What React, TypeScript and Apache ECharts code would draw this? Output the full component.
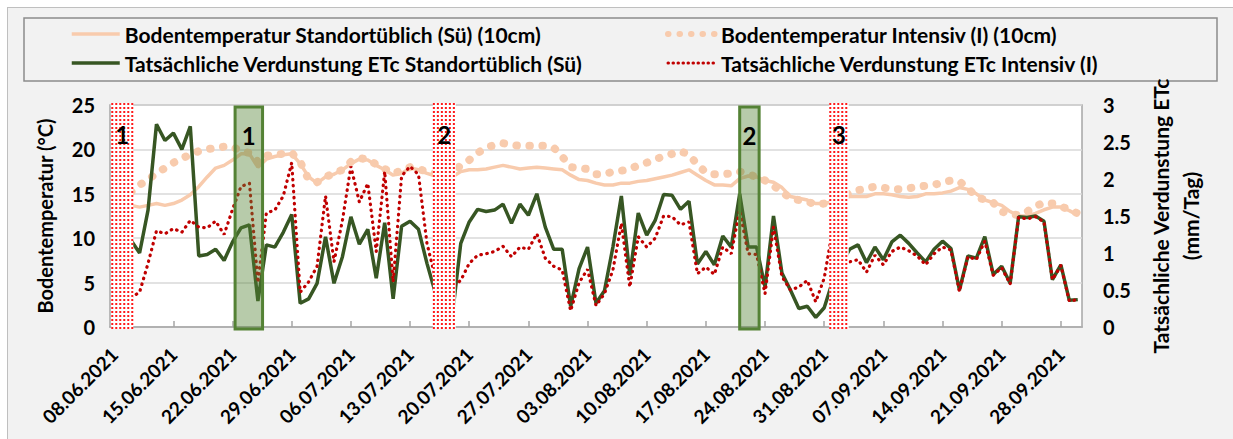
import React, { useEffect, useRef } from 'react';
import * as echarts from 'echarts';

// ---------- data ----------
const startDateUTC = Date.UTC(2021, 5, 8);
const dayCount = 115;
const categories: string[] = [];
for (let i = 0; i < dayCount; i++) {
  const d = new Date(startDateUTC + i * 86400000);
  categories.push(
    String(d.getUTCDate()).padStart(2, '0') + '.' + String(d.getUTCMonth() + 1).padStart(2, '0') + '.' + d.getUTCFullYear()
  );
}

const seriesNames = [
  'Bodentemperatur Standortüblich (Sü) (10cm)',
  'Bodentemperatur Intensiv (I) (10cm)',
  'Tatsächliche Verdunstung ETc Standortüblich (Sü)',
  'Tatsächliche Verdunstung ETc Intensiv (I)',
];

// soil temperature (°C), left axis
const soilSue = [
  null, null, 13.7, 13.5, 13.7, 13.9, 13.7, 13.9, 14.3, 14.9,
  15.8, 16.9, 17.9, 18.2, 18.8, 19.5, 19.5, 18.0, 18.9, 19.2,
  19.4, 19.5, 18.4, 16.9, 16.2, 16.9, 17.2, 17.7, 18.4, 18.9,
  18.8, 18.2, 17.7, 17.1, 17.3, 17.9, 17.7, 17.3, 17.0, 16.8,
  16.9, 17.5, 17.7, 17.7, 17.8, 18.0, 18.2, 18.0, 17.8, 17.9,
  18.0, 17.9, 17.8, 17.7, 17.1, 16.6, 16.5, 16.2, 16.0, 16.0,
  16.2, 16.2, 16.4, 16.5, 16.7, 16.9, 17.1, 17.4, 17.7, 17.1,
  16.5, 16.0, 16.0, 15.9, 16.7, 17.0, 16.9, 16.5, 16.3, 15.7,
  14.7, 14.5, 14.3, 13.9, 13.9, 14.1, 14.4, 14.7, 14.7, 14.7,
  15.0, 15.0, 14.9, 14.7, 14.6, 14.7, 15.0, 15.0, 15.1, 15.3,
  15.7, 15.5, 15.0, 14.3, 14.0, 13.7, 13.0, 12.5, 12.5, 12.8,
  13.2, 13.5, 13.5, 13.1, 12.6,
];

const soilInt = [
  null, null, 15.2, 16.0, 16.6, 17.3, 17.9, 18.5, 19.0, 19.4,
  19.8, 20.0, 20.2, 20.3, 20.3, 19.8, 19.6, 18.6, 19.3, 19.4,
  19.5, 19.6, 18.6, 16.6, 16.3, 16.9, 17.3, 17.7, 18.6, 19.0,
  18.9, 18.3, 17.8, 17.3, 17.6, 18.0, 17.8, 17.5, 17.3, 17.2,
  17.4, 18.2, 18.8, 19.6, 20.2, 20.5, 20.7, 20.5, 20.4, 20.4,
  20.4, 20.4, 20.2, 19.2, 18.0, 17.9, 17.8, 17.2, 17.2, 17.5,
  17.6, 17.8, 18.2, 18.5, 18.9, 19.2, 19.5, 19.8, 19.4, 18.3,
  17.4, 17.2, 17.2, 17.3, 17.5, 17.2, 16.9, 16.5, 15.9, 15.2,
  14.5, 14.3, 14.1, 13.8, 13.9, 14.2, 14.6, 15.1, 15.4, 15.6,
  15.8, 15.7, 15.5, 15.5, 15.6, 15.8, 15.9, 16.0, 16.3, 16.5,
  16.4, 15.6, 14.7, 14.3, 14.0, 13.0, 12.7, 12.6, 13.0, 13.6,
  14.0, 13.9, 13.6, 13.2, 12.8,
];

// actual evapotranspiration ETc (mm/Tag), right axis
const etcSue = [
  null, null, 1.17, 1.00, 1.58, 2.74, 2.52, 2.62, 2.40, 2.71,
  0.96, 0.98, 1.05, 0.90, 1.15, 1.34, 1.38, 0.35, 1.11, 1.08,
  1.28, 1.52, 0.32, 0.38, 0.59, 1.22, 0.59, 0.95, 1.49, 1.12,
  1.32, 0.66, 1.41, 0.38, 1.36, 1.43, 1.32, 0.86, 0.46, 0.30,
  0.15, 1.13, 1.42, 1.59, 1.56, 1.58, 1.66, 1.40, 1.66, 1.51,
  1.80, 1.35, 1.05, 1.05, 0.28, 0.79, 1.08, 0.32, 0.49, 1.08,
  1.77, 0.70, 1.54, 1.24, 1.44, 1.79, 1.78, 1.59, 1.70, 0.85,
  1.02, 0.84, 1.23, 1.08, 1.80, 1.08, 1.08, 0.54, 1.50, 0.73,
  0.50, 0.25, 0.28, 0.13, 0.26, 0.62, 0.84, 1.05, 1.11, 0.87,
  1.08, 0.91, 1.15, 1.24, 1.13, 1.00, 0.88, 1.05, 1.16, 1.06,
  0.50, 0.96, 0.93, 1.22, 0.71, 0.82, 0.59, 1.49, 1.48, 1.50,
  1.43, 0.64, 0.84, 0.36, 0.37,
];

const etcInt = [
  null, null, 0.40, 0.47, 0.86, 1.30, 1.26, 1.33, 1.28, 1.44,
  1.35, 1.34, 1.43, 1.25, 1.59, 1.90, 1.94, 0.60, 1.54, 1.58,
  1.77, 2.22, 0.47, 0.61, 0.82, 1.77, 0.88, 1.44, 2.17, 1.69,
  1.94, 1.02, 2.10, 0.61, 2.04, 2.17, 2.06, 1.13, 0.66, 0.54,
  0.54, 0.63, 0.86, 0.97, 0.99, 1.02, 1.09, 0.95, 1.08, 1.05,
  1.26, 0.93, 0.82, 0.77, 0.22, 0.60, 0.78, 0.29, 0.45, 0.77,
  1.40, 0.54, 1.22, 1.08, 1.20, 1.50, 1.49, 1.38, 1.42, 0.72,
  0.81, 0.71, 1.08, 0.99, 1.58, 0.99, 0.98, 0.45, 1.35, 0.68,
  0.50, 0.54, 0.63, 0.34, 0.66, 1.32, 1.02, 0.88, 0.91, 0.74,
  0.97, 0.84, 1.02, 1.08, 1.03, 0.96, 0.84, 0.99, 1.08, 1.04,
  0.48, 0.95, 0.91, 1.16, 0.70, 0.80, 0.58, 1.48, 1.46, 1.49,
  1.42, 0.64, 0.83, 0.35, 0.37,
];

// marked periods, in category-index units (start / end of the band)
const redBoxStart = [0.15, 38.2, 85.1];
const redBoxEnd = [2.75, 40.9, 87.4];
const redBoxLabels = ['1', '2', '3'];
const greenBoxStart = [14.8, 74.5];
const greenBoxEnd = [18.05, 76.8];
const greenBoxLabels = ['1', '2'];

const leftAxisTitle = 'Bodentemperatur (°C)';
const rightAxisTitle = 'Tatsächliche Verdunstung ETc\n(mm/Tag)';

// ---------- styles ----------
const FONT = 'Lato, "Noto Sans", sans-serif';
const C_SOIL = '#F8CBAD';
const C_GREEN = '#375623';
const C_RED = '#C00000';

export default function App() {
  const ref = useRef<HTMLDivElement>(null);

  useEffect(() => {
    if (!ref.current) return;
    const chart = echarts.init(ref.current, null, { renderer: 'svg' });

    const boxGeom = (api: any, s: number, e: number) => {
      const c0 = api.coord([0, 0]);
      const bw = api.size([1, 0])[0];
      const yTop = api.coord([0, 25])[1];
      const yBot = c0[1];
      const x0 = c0[0] + (s - 0.5) * bw;
      const x1 = c0[0] + (e - 0.5) * bw;
      return { x0, x1, yTop, yBot };
    };

    const renderRed = (params: any, api: any) => {
      const i = params.dataIndex;
      const { x0, x1, yTop, yBot } = boxGeom(api, redBoxStart[i], redBoxEnd[i]);
      const children: any[] = [
        { type: 'rect', shape: { x: x0, y: yTop - 2, width: x1 - x0, height: yBot - yTop + 4 }, style: { fill: '#ffffff' } },
      ];
      for (let x = x0 + 1; x < x1; x += 4) {
        children.push({
          type: 'line',
          shape: { x1: x, y1: yTop - 2, x2: x, y2: yBot + 2 },
          style: { stroke: '#ff1a1a', lineWidth: 2, lineDash: [2, 2] },
        });
      }
      children.push({
        type: 'text',
        style: {
          text: redBoxLabels[i], x: (x0 + x1) / 2, y: yTop + 29, fill: '#000',
          font: 'bold 24px ' + FONT, align: 'center', verticalAlign: 'middle',
        },
      });
      return { type: 'group', children };
    };

    const renderGreen = (params: any, api: any) => {
      const i = params.dataIndex;
      const { x0, x1, yTop, yBot } = boxGeom(api, greenBoxStart[i], greenBoxEnd[i]);
      return {
        type: 'group',
        children: [
          {
            type: 'rect',
            shape: { x: x0, y: yTop + 2, width: x1 - x0, height: yBot - yTop },
            style: { fill: 'rgba(84,130,53,0.42)', stroke: '#548235', lineWidth: 3 },
          },
          {
            type: 'text',
            style: {
              text: greenBoxLabels[i], x: (x0 + x1) / 2, y: yTop + 30, fill: '#000',
              font: 'bold 24px ' + FONT, align: 'center', verticalAlign: 'middle',
            },
          },
        ],
      };
    };

    const tickStyle = { color: '#000', fontWeight: 'bold', fontSize: 20, fontFamily: FONT };
    const titleStyle = { color: '#000', fontWeight: 'bold', fontSize: 21, fontFamily: FONT };
    const hiddenSymbol = { opacity: 0, color: 'rgba(0,0,0,0)', borderWidth: 0 };

    const legendCommon = {
      orient: 'vertical',
      top: 22,
      padding: 0,
      itemWidth: 48,
      itemHeight: 14,
      itemGap: 5,
      textStyle: { ...titleStyle, lineHeight: 24 },
    };

    chart.setOption({
      animation: false,
      backgroundColor: 'transparent',
      graphic: [
        {
          type: 'rect',
          shape: { x: 24, y: 18, width: 1193, height: 63 },
          style: { fill: 'none', stroke: '#8c8c8c', lineWidth: 1.5 },
        },
      ],
      legend: [
        {
          ...legendCommon,
          left: 70,
          data: [
            { name: seriesNames[0], itemStyle: hiddenSymbol, lineStyle: { width: 3.5, color: C_SOIL } },
            { name: seriesNames[2], itemStyle: hiddenSymbol, lineStyle: { width: 3.5, color: C_GREEN } },
          ],
        },
        {
          ...legendCommon,
          left: 665,
          data: [
            { name: seriesNames[1], itemStyle: hiddenSymbol, lineStyle: { width: 6, color: C_SOIL, type: [0.5, 11], cap: 'round' } },
            { name: seriesNames[3], itemStyle: hiddenSymbol, lineStyle: { width: 3, color: C_RED, type: [0.5, 4.5], cap: 'round' } },
          ],
        },
      ],
      grid: {
        left: 110, right: 151, top: 105, bottom: 112,
        show: true, backgroundColor: '#ffffff', borderColor: '#a6a6a6', borderWidth: 1.5,
      },
      xAxis: {
        type: 'category',
        data: categories,
        boundaryGap: true,
        axisLine: { lineStyle: { color: '#a6a6a6', width: 1.5 } },
        axisTick: { show: true, inside: true, length: 6, alignWithLabel: true, interval: 6, lineStyle: { color: '#a6a6a6', width: 1.5 } },
        axisLabel: { ...tickStyle, fontSize: 19, interval: 6, rotate: 45, margin: 24 },
        splitLine: { show: false },
      },
      yAxis: [
        {
          type: 'value', min: 0, max: 25, interval: 5, position: 'left',
          axisLine: { show: false }, axisTick: { show: false },
          axisLabel: { ...tickStyle, margin: 15 },
          splitLine: { lineStyle: { color: '#d9d9d9', width: 1.5 } },
          name: leftAxisTitle, nameLocation: 'middle', nameGap: 53,
          nameTextStyle: { ...titleStyle, fontSize: 20, lineHeight: 24 },
        },
        {
          type: 'value', min: 0, max: 3, interval: 0.5, position: 'right',
          axisLine: { show: false }, axisTick: { show: false },
          axisLabel: { ...tickStyle, margin: 21 },
          splitLine: { show: false },
          name: rightAxisTitle, nameLocation: 'middle', nameGap: 63,
          nameTextStyle: { ...titleStyle, lineHeight: 30 },
        },
      ],
      series: [
        {
          name: seriesNames[0], type: 'line', yAxisIndex: 0, data: soilSue, symbol: 'none',
          lineStyle: { color: C_SOIL, width: 3.5 }, itemStyle: { color: C_SOIL }, z: 2,
        },
        {
          name: seriesNames[1], type: 'line', yAxisIndex: 0, data: soilInt, symbol: 'none',
          lineStyle: { color: C_SOIL, width: 8, type: [0.5, 12.5], cap: 'round' }, itemStyle: { color: C_SOIL }, z: 2,
        },
        {
          name: seriesNames[2], type: 'line', yAxisIndex: 1, data: etcSue, symbol: 'none',
          lineStyle: { color: C_GREEN, width: 3.5 }, itemStyle: { color: C_GREEN }, z: 3,
        },
        {
          name: seriesNames[3], type: 'line', yAxisIndex: 1, data: etcInt, symbol: 'none',
          lineStyle: { color: C_RED, width: 3.2, type: [0.5, 5.5], cap: 'round' }, itemStyle: { color: C_RED }, z: 4,
        },
        {
          name: 'greenBoxes', type: 'custom', yAxisIndex: 0, renderItem: renderGreen,
          data: greenBoxStart.map((_, i) => [i, 0]), z: 6, silent: true,
        },
        {
          name: 'redBoxes', type: 'custom', yAxisIndex: 0, renderItem: renderRed,
          data: redBoxStart.map((_, i) => [i, 0]), z: 7, silent: true,
        },
      ],
    });

    return () => chart.dispose();
  }, []);

  return (
    <div style={{ position: 'absolute', left: 0, top: 0, width: 1233, height: 439, background: '#ffffff' }}>
      <div
        style={{
          position: 'absolute', left: 7, top: 7, width: 1226, height: 432,
          background: '#f2f2f2', borderLeft: '1px solid #bfbfbf', borderTop: '1px solid #bfbfbf',
        }}
      />
      <div ref={ref} style={{ position: 'absolute', left: 0, top: 0, width: 1233, height: 439 }} />
    </div>
  );
}
